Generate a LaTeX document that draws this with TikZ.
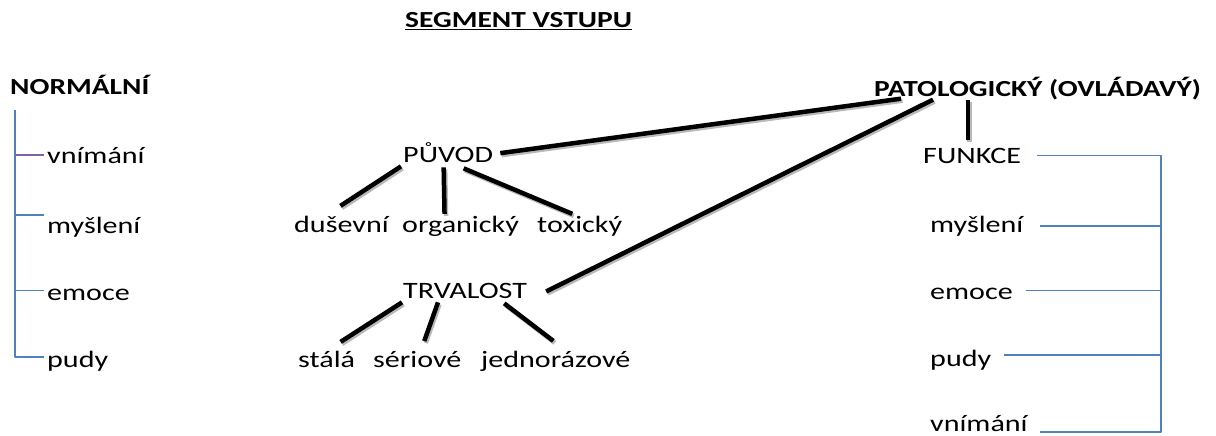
\documentclass[tikz,border=0pt]{standalone}
\usepackage{fontspec}
\setmainfont[FakeStretch=1.28]{Carlito}
\usetikzlibrary{calc}
\definecolor{lineblue}{RGB}{79,129,189}
\definecolor{tickpurple}{RGB}{128,100,162}
\tikzset{
	lbl/.style={anchor=base west, inner sep=0pt},
	hdr/.style={lbl, font=\fontsize{23}{27}\selectfont\bfseries},
	bar/.style={line width=4.5pt, preaction={draw=gray!55, line width=4.5pt, transform canvas={shift={(1.5pt,-2pt)}}}},
	branch/.style={draw=lineblue, line width=1.6pt},
}
\begin{document}
\begin{tikzpicture}[x=1pt, y=-1pt, font=\fontsize{23.5}{27}\selectfont, line join=round]
	\useasboundingbox (0,0) rectangle (1216,436);
	\node[hdr] (segment) at (405,28) {\underline{SEGMENT VSTUPU}};
	\node[hdr] (normal) at (10,95) {NORMÁLNÍ};
	\node[hdr] (patol) at (874,96) {PATOLOGICKÝ (OVLÁDAVÝ)};
	% normalni
	\node[lbl] (vnimani) at (47,163) {vnímání};
	\node[lbl] (mysleni) at (47,233) {myšlení};
	\node[lbl] (emoce) at (47,300) {emoce};
	\node[lbl] (pudy) at (47,367) {pudy};
	\coordinate (ltop) at (15,110);
	\draw[branch] (ltop) |- ([shift={(-3,-4)}]pudy.west);
	\draw[branch, draw=tickpurple] (vnimani.west -| ltop) -- ([xshift=-3pt]vnimani.west);
	\coordinate (lm) at ([shift={(-3,-12)}]mysleni.west);
	\coordinate (le) at ([shift={(-3,-4)}]emoce.west);
	\draw[branch] (lm -| ltop) -- (lm);
	\draw[branch] (le -| ltop) -- (le);
	% puvod a trvalost
	\node[lbl] (puvod) at (403,162) {PŮVOD};
	\node[lbl] (dusevni) at (294,232) {duševní};
	\node[lbl] (organicky) at (402,232) {organický};
	\node[lbl] (toxicky) at (537,232) {toxický};
	\node[lbl] (trvalost) at (403,298) {TRVALOST};
	\node[lbl] (stala) at (298,367) {stálá};
	\node[lbl] (seriove) at (373,367) {sériové};
	\node[lbl] (jednorazove) at (481,367) {jednorázové};
	\draw[bar] ([shift={(7,1)}]puvod.east) -- ([shift={(27,-1)}]patol.south west);
	\draw[bar] ([shift={(19,1)}]trvalost.east) -- ([shift={(59,0)}]patol.south west);
	\draw[bar] ([shift={(-2,4)}]puvod.south west) -- ([shift={(-1,-9.6)}]dusevni.north);
	\draw[bar] ([shift={(-4.5,5)}]puvod.south) -- ([shift={(-16,-1.6)}]organicky.north);
	\draw[bar] ([shift={(15.5,6)}]puvod.south) -- ([shift={(-7.4,-1.6)}]toxicky.north);
	\draw[bar] ([shift={(-1,4)}]trvalost.south west) -- ([shift={(14,-8.6)}]stala.north);
	\draw[bar] ([shift={(35,4)}]trvalost.south west) -- ([shift={(7,-9.6)}]seriove.north);
	\draw[bar] ([shift={(-23,5)}]trvalost.south east) -- ([shift={(-2.5,-9.6)}]jednorazove.north);
	% patologicky
	\node[lbl] (funkce) at (923,163) {FUNKCE};
	\node[lbl] (mysleni2) at (930,232) {myšlení};
	\node[lbl] (emoce2) at (930,299) {emoce};
	\node[lbl] (pudy2) at (930,366) {pudy};
	\node[lbl] (vnimani2) at (930,431) {vnímání};
	\coordinate (ftop) at ([shift={(-4,-8)}]funkce.north);
	\draw[bar] (ftop) -- (ftop |- patol.south);
	\coordinate (rb) at (1161,0);
	\coordinate (rf) at ([xshift=16pt]funkce.east);
	\coordinate (rm) at ([xshift=16pt]mysleni2.east);
	\coordinate (re) at ([shift={(13,-3)}]emoce2.east);
	\coordinate (rp) at ([shift={(13,-4.5)}]pudy2.east);
	\coordinate (rv) at ([shift={(12,9)}]vnimani2.east);
	\draw[branch] (rf) -- (rf -| rb) -- (rv -| rb) -- (rv);
	\foreach \r in {rm,re,rp}
		\draw[branch] (\r) -- (\r -| rb);
\end{tikzpicture}
\end{document}
